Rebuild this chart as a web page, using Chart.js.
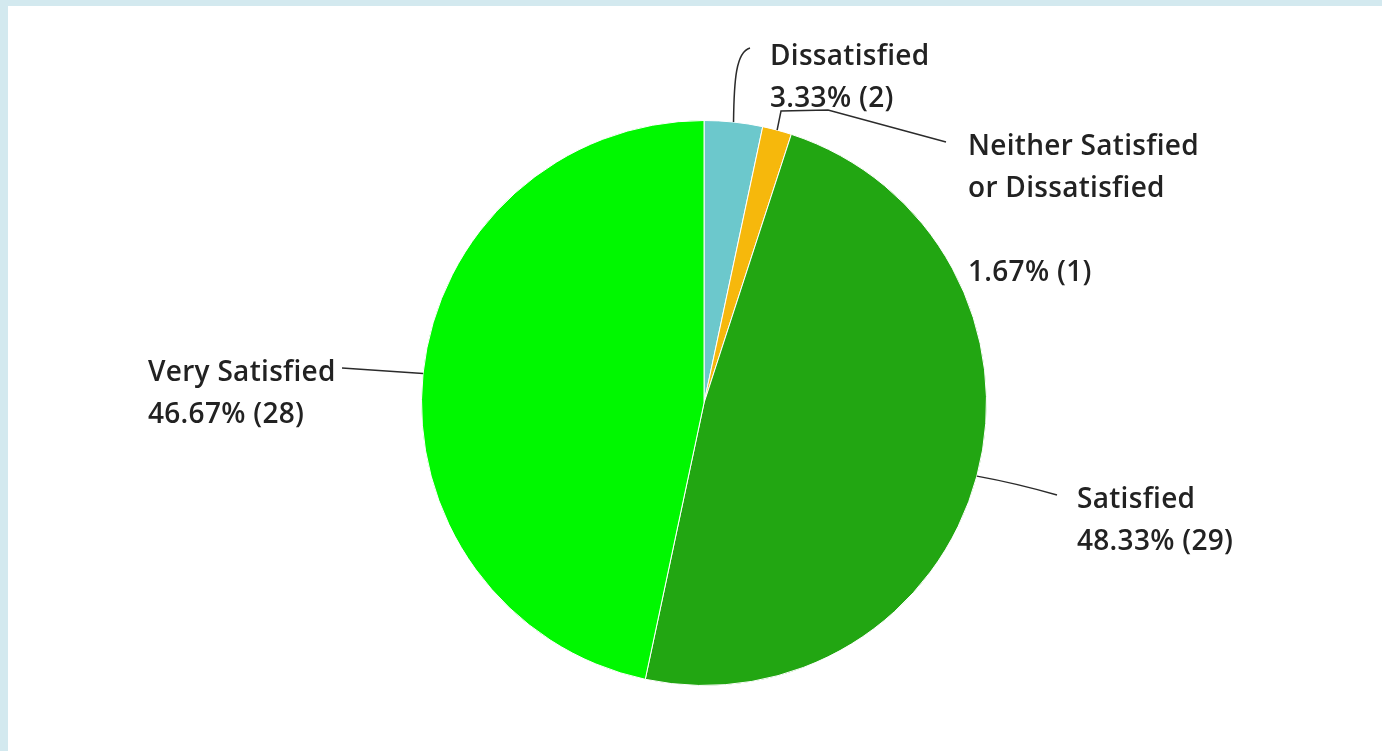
<!DOCTYPE html>
<html>
<head>
<meta charset="utf-8">
<script src="https://cdn.jsdelivr.net/npm/chart.js@4.4.1/dist/chart.umd.min.js"></script>
<style>
  html, body { margin: 0; padding: 0; width: 1382px; height: 751px; overflow: hidden; background: #d3e9ef; }
  #panel { position: absolute; left: 8px; top: 6px; right: 0; bottom: 0; background: #fff; }
  #wrap { position: absolute; left: 0; top: 0; width: 1382px; height: 751px; }
</style>
</head>
<body>
<div id="panel"></div>
<div id="wrap"><canvas id="chart"></canvas></div>
<script>
// data
const categories = ['Dissatisfied', 'Neither Satisfied or Dissatisfied', 'Satisfied', 'Very Satisfied'];
const counts = [2, 1, 29, 28];
const percents = [3.33, 1.67, 48.33, 46.67];
const colors = ['#6cc8cc', '#f6b80c', '#22a612', '#00f800'];

// label placement, offsets from pie centre (px)
const labelLayout = [
  { name: ['Dissatisfied'], text: [66, -338], path: [['c', 30, -323, 32, -351, 46, -355]] },
  { name: ['Neither Satisfied', 'or Dissatisfied', ''], text: [264, -248], path: [['l', 77, -292], ['l', 124, -293], ['l', 242, -261]] },
  { name: ['Satisfied'], text: [373, 105], path: [['q', 311, 80, 353, 92]] },
  { name: ['Very Satisfied'], text: [-556, -22], path: [['q', -320, -32, -362, -35]] }
];

const FONT = '600 28px "Open Sans", "Noto Sans", sans-serif';
const LINE_H = 42;

const calloutPlugin = {
  id: 'callouts',
  afterDraw(chart) {
    const ctx = chart.ctx;
    const arcs = chart.getDatasetMeta(0).data;
    ctx.save();
    arcs.forEach((arc, i) => {
      const { x, y, startAngle, endAngle, outerRadius } = arc.getProps(['x', 'y', 'startAngle', 'endAngle', 'outerRadius'], true);
      const mid = (startAngle + endAngle) / 2;
      const lay = labelLayout[i];
      ctx.strokeStyle = '#2b2b2b';
      ctx.lineWidth = 1.5;
      ctx.beginPath();
      ctx.moveTo(x + Math.cos(mid) * outerRadius, y + Math.sin(mid) * outerRadius);
      lay.path.forEach(seg => {
        const p = seg.slice(1).map((v, k) => v + (k % 2 ? y : x));
        if (seg[0] === 'l') ctx.lineTo(p[0], p[1]);
        else if (seg[0] === 'q') ctx.quadraticCurveTo(p[0], p[1], p[2], p[3]);
        else ctx.bezierCurveTo(p[0], p[1], p[2], p[3], p[4], p[5]);
      });
      ctx.stroke();

      const lines = lay.name.concat([percents[i].toFixed(2) + '% (' + counts[i] + ')']);
      ctx.fillStyle = '#222222';
      ctx.font = FONT;
      ctx.letterSpacing = '0.3px';
      ctx.textAlign = 'left';
      ctx.textBaseline = 'alphabetic';
      lines.forEach((t, k) => {
        ctx.fillText(t, x + lay.text[0], y + lay.text[1] + k * LINE_H);
      });
    });
    ctx.restore();
  }
};

new Chart(document.getElementById('chart'), {
  type: 'pie',
  data: {
    labels: categories,
    datasets: [{
      data: counts,
      backgroundColor: colors,
      borderColor: '#ffffff',
      borderWidth: 1
    }]
  },
  options: {
    responsive: true,
    maintainAspectRatio: false,
    animation: false,
    layout: { padding: { left: 421, right: 395, top: 120, bottom: 65 } },
    plugins: {
      legend: { display: false },
      tooltip: { enabled: false }
    }
  },
  plugins: [calloutPlugin]
});
</script>
</body>
</html>
